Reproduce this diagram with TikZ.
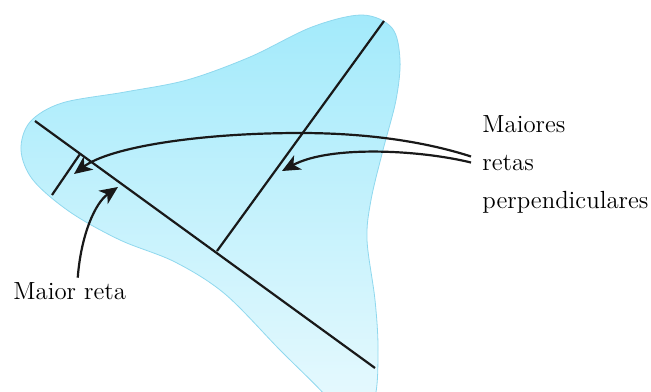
\documentclass[tikz,border=0pt]{standalone}
\usepackage{xcolor}
\usepackage{tikz}
\usetikzlibrary{arrows.meta,positioning,calc}
\definecolor{blobTop}{HTML}{A3EAFB}
\definecolor{blobBot}{HTML}{EAFAFE}
\definecolor{blobEdge}{HTML}{8FD8EE}

\begin{document}
\begin{tikzpicture}[
  x=0.5pt,y=-0.5pt,
  line/.style={line width=1.1pt,black!90},
  pointer/.style={line width=1.1pt,black!90,-{Stealth[length=9pt,width=8pt,inset=2.5pt]}},
  lbl/.style={font=\fontsize{12.4}{15}\selectfont,inner ysep=0pt,inner xsep=5.5pt,anchor=base west}
]
\useasboundingbox (0,0) rectangle (651,391);

% Region
\begin{scope}
\clip (0,0) rectangle (651,391);
\path[draw=blobEdge,line width=0.4pt,top color=blobTop,bottom color=blobBot]
  plot[smooth cycle,tension=0.55] coordinates {
  (21,150) (30,122) (62,103) (125,92) (187,80) (250,57) (312,27) (362,15)
  (392,28) (400,60) (396,100) (383,150) (371,200) (367,240) (375,300)
  (378,350) (374,400) (350,428) (325,395) (280,350) (225,294) (175,262)
  (120,240) (70,212) (33,180)};
\end{scope}

% Lines
\coordinate (m1) at (35,121);
\coordinate (m2) at (375,368);
\coordinate (p1) at (384,21);
\coordinate (p2) at (217,251);
\coordinate (q1) at (80,154);
\coordinate (q2) at (52,195);
\draw[line] (m1) -- (m2);
\draw[line] (p1) -- (p2);
\draw[line] (q1) -- (q2);

% Labels
\node[lbl] (maior) at (2,299) {Maior reta};
\node[lbl] (maiores) at (471,132) {Maiores};
\node[lbl] (retas) at (471,170) {retas};
\node[lbl] (perp) at (471,208) {perpendiculares};

% Arrows
\coordinate (tipA) at (118,187);
\coordinate (tipB) at (74,174);
\coordinate (tipC) at (282,171);
\draw[pointer] ([xshift=4pt,yshift=2pt]maior.north)
  .. controls (81,235) and (95,203) .. (tipA);
\draw[pointer] ([yshift=3pt]retas.west)
  .. controls (420,140) and (360,133) .. (300,133)
  .. controls (200,133) and (110,147) .. (tipB);
\draw[pointer] (retas.west)
  .. controls (420,150) and (330,145) .. (tipC);
\end{tikzpicture}
\end{document}
